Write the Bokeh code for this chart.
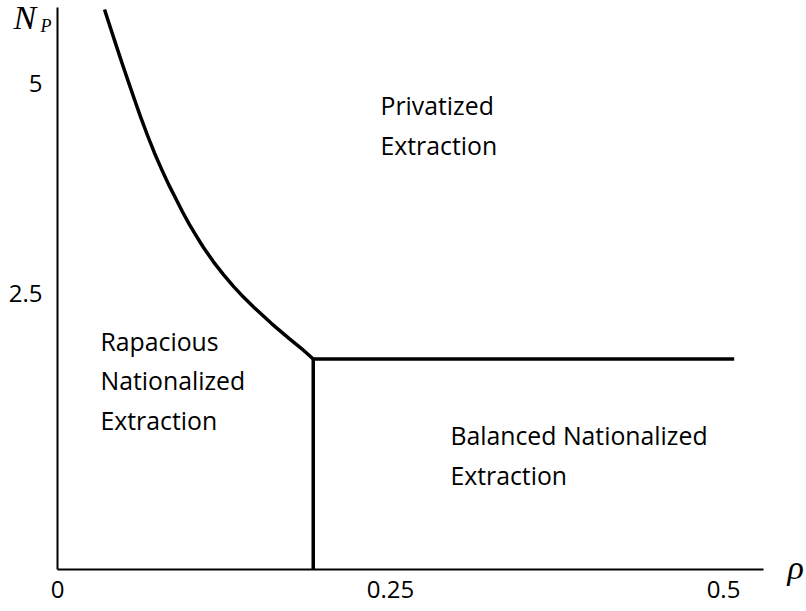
from bokeh.plotting import figure
from bokeh.models import Range1d, FixedTicker, Label, ColumnDataSource
from bokeh.core.properties import value
from bokeh.embed import file_html
from bokeh.resources import INLINE

# ---- data ----
rho_curve = [0.0353, 0.0398, 0.0443, 0.0488, 0.0533, 0.0578, 0.0623,
             0.0676, 0.0728, 0.0781, 0.0833, 0.0886, 0.0938, 0.0991,
             0.1044, 0.1096, 0.1171, 0.1246, 0.1321, 0.1396, 0.1472,
             0.1607, 0.1742, 0.1832, 0.192]
np_curve = [5.881, 5.660, 5.442, 5.227, 5.017, 4.810, 4.606,
            4.381, 4.173, 3.981, 3.802, 3.636, 3.473, 3.321,
            3.180, 3.048, 2.877, 2.724, 2.585, 2.457, 2.339,
            2.142, 1.960, 1.845, 1.72]
rho_threshold = 0.192
np_threshold = 1.72
rho_max = 0.508

x_ticks = [0, 0.25, 0.5]
x_tick_labels = ["0", "0.25", "0.5"]
y_ticks = [2.5, 5]
y_tick_labels = ["2.5", "5"]

region_lines = [
    ["Privatized", "Extraction"],
    ["Rapacious", "Nationalized", "Extraction"],
    ["Balanced Nationalized", "Extraction"],
]

# ---- layout (positions in data units) ----
XR = (-0.04279, 0.56231)      # whole canvas
YR = (-1.2857, 5.9881)
AX_X = (0.0, 0.530)           # extent of the x axis line
AX_Y = (-0.786, 5.905)        # extent of the y axis line
region_anchor = [(0.2425, 4.74), (0.0323, 1.94), (0.295, 0.81)]
line_step = 0.47

FONT = "Open Sans"

p = figure(width=806, height=611,
           x_range=Range1d(*XR), y_range=Range1d(*YR),
           output_backend="svg", toolbar_location=None,
           min_border=0, min_border_left=0, min_border_right=0,
           min_border_top=0, min_border_bottom=0)
p.outline_line_color = None
p.grid.visible = False
p.background_fill_color = "white"
p.border_fill_color = "white"

for ax in (p.xaxis, p.yaxis):
    ax.axis_line_width = 2
    ax.axis_line_color = "black"
    ax.major_tick_line_color = None
    ax.minor_tick_line_color = None
    ax.major_tick_out = 0
    ax.major_tick_in = 0
    ax.minor_tick_out = 0
    ax.minor_tick_in = 0
    ax.major_label_text_font = FONT
    ax.major_label_text_font_size = "24px"
    ax.major_label_text_color = "black"

p.xaxis.fixed_location = AX_Y[0]
p.xaxis.bounds = AX_X
p.yaxis.fixed_location = AX_X[0]
p.yaxis.bounds = AX_Y

p.xaxis.ticker = FixedTicker(ticks=x_ticks)
p.xaxis.major_label_overrides = {t: l for t, l in zip(x_ticks, x_tick_labels)}
p.xaxis.major_label_standoff = 11
p.yaxis.ticker = FixedTicker(ticks=y_ticks)
p.yaxis.major_label_overrides = {t: l for t, l in zip(y_ticks, y_tick_labels)}
p.yaxis.major_label_standoff = 15

lw = 3.5
p.line(rho_curve, np_curve, line_color="black", line_width=lw, line_join="round")
p.line([rho_threshold, rho_max], [np_threshold, np_threshold],
       line_color="black", line_width=lw)
p.line([rho_threshold, rho_threshold], [AX_Y[0], np_threshold],
       line_color="black", line_width=lw)

xs, ys, ts = [], [], []
for (ax_, ay_), lines in zip(region_anchor, region_lines):
    for i, t in enumerate(lines):
        xs.append(ax_)
        ys.append(ay_ - i * line_step)
        ts.append(t)
src = ColumnDataSource(dict(x=xs, y=ys, t=ts))
p.text("x", "y", text="t", source=src, text_font=value(FONT),
       text_font_size="24.8px", text_align="left", text_baseline="middle",
       text_color="black")

# axis symbols
p.add_layout(Label(x=-0.033, y=5.786, text="N", text_font="Liberation Serif",
                   text_font_style="italic", text_font_size="34px",
                   text_baseline="alphabetic", text_color="black"))
p.add_layout(Label(x=-0.0128, y=5.679, text="P", text_font="Liberation Serif",
                   text_font_style="italic", text_font_size="18px",
                   text_baseline="alphabetic", text_color="black"))
p.add_layout(Label(x=0.548, y=-0.762, text="ρ", text_font="Liberation Serif",
                   text_font_style="italic", text_font_size="34px",
                   text_baseline="alphabetic", text_color="black"))

open("out.html", "w").write(file_html(p, INLINE))
